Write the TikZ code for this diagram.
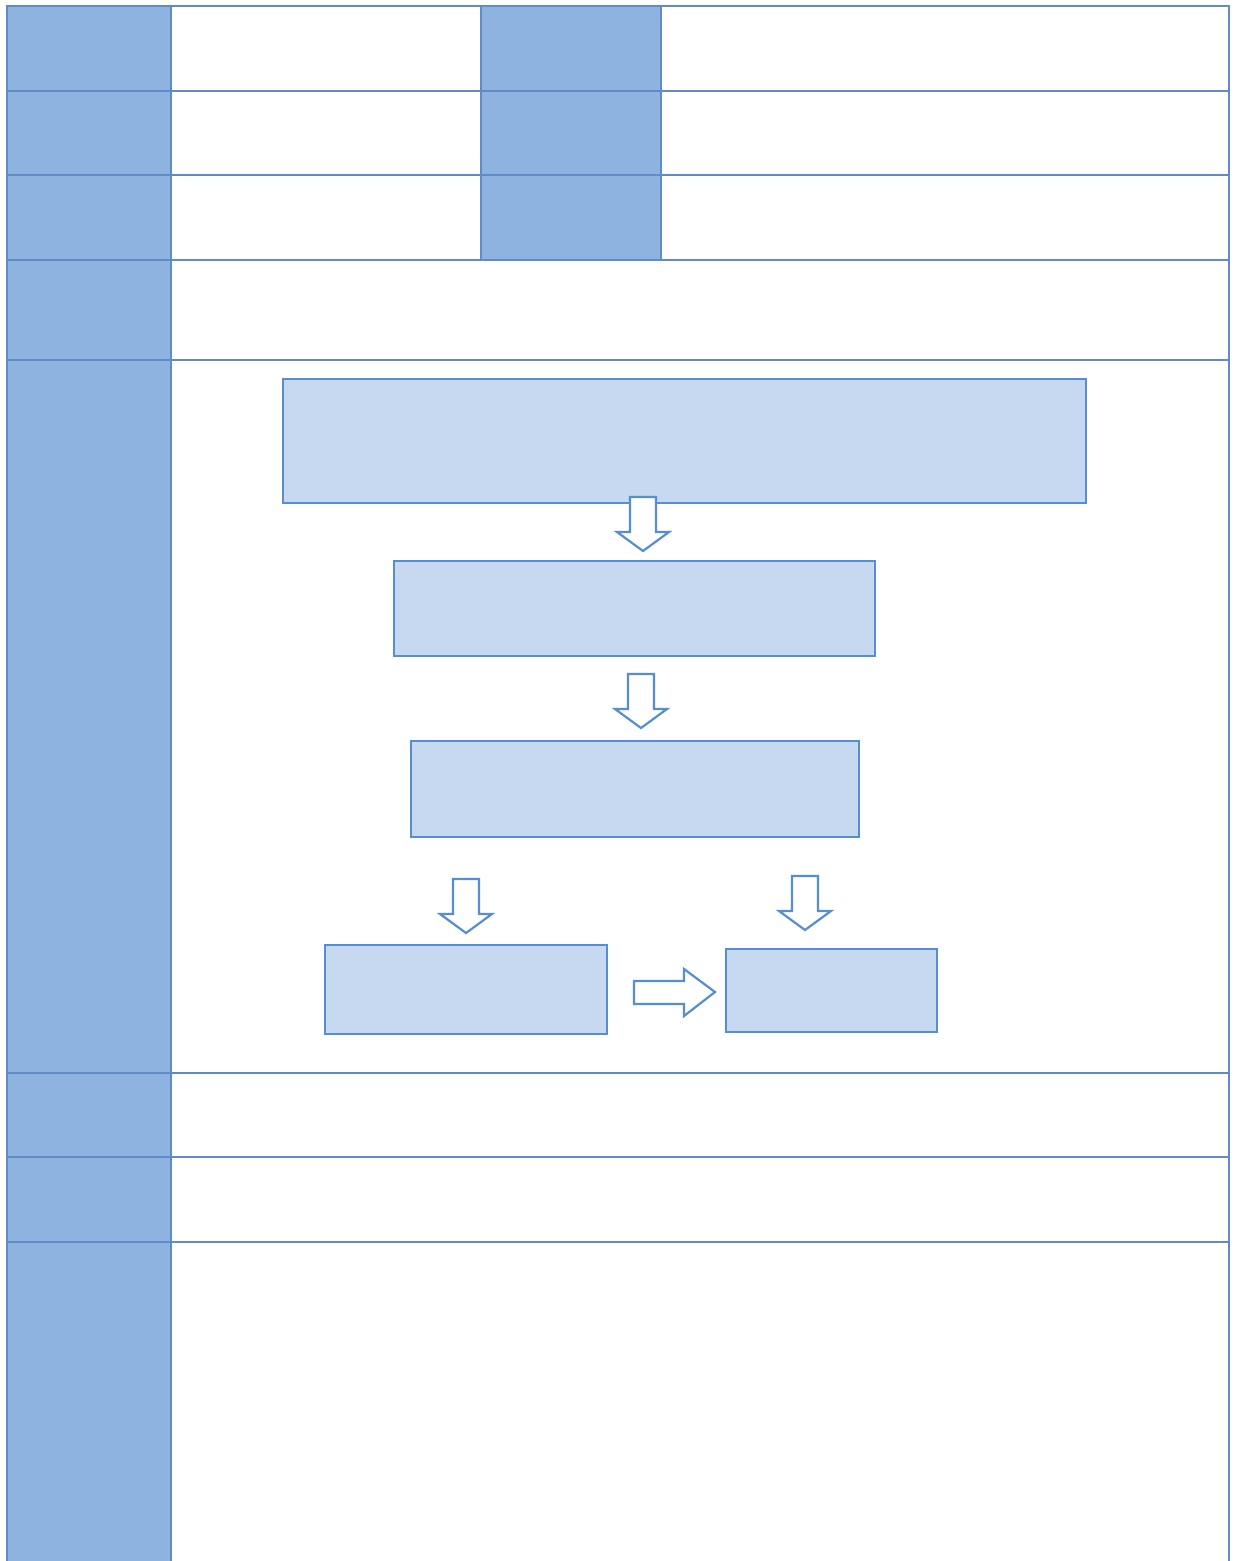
\documentclass[tikz,border=0pt]{standalone}
\usepackage{xcolor}
\definecolor{hdr}{HTML}{8EB3E1}
\definecolor{grid}{HTML}{5F8CC8}
\definecolor{boxfill}{HTML}{C6D9F0}
\definecolor{boxline}{HTML}{558ED5}
\tikzset{
  cellline/.style={draw=grid, line width=0.6pt},
  flowbox/.style={draw=boxline, fill=boxfill, line width=1.3pt},
  blockarrow/.style={draw=boxline, fill=white, line width=1.1pt, line join=miter},
}
% down block arrow: center x, top y
\newcommand\blkdown[2]{%
  \draw[blockarrow] (#1-13,#2) -- (#1+13,#2) -- (#1+13,#2+35) -- (#1+26,#2+35)
    -- (#1,#2+54) -- (#1-26,#2+35) -- (#1-13,#2+35) -- cycle;}
\begin{document}
\begin{tikzpicture}[x=0.5pt,y=-0.5pt]
\useasboundingbox (0,0) rectangle (1235,1561);
\fill[white] (0,0) rectangle (1235,1561);
% header fills
\fill[hdr] (7,6) rectangle (171,1561);
\fill[hdr] (481,6) rectangle (661,260);
% grid
\draw[cellline] (7,1561) -- (7,6) -- (1229,6) -- (1229,1561);
\draw[cellline] (171,6) -- (171,1561);
\draw[cellline] (481,6) -- (481,260);
\draw[cellline] (661,6) -- (661,260);
\foreach \yy in {91,175,260,360,1073,1157,1242}
  \draw[cellline] (7,\yy) -- (1229,\yy);
% flow boxes
\node[flowbox, minimum width=401.5pt, minimum height=62pt, inner sep=0pt] (b1) at (684.5,441) {};
\node[flowbox, minimum width=240.5pt, minimum height=47.5pt, inner sep=0pt] (b2) at (634.5,608.5) {};
\node[flowbox, minimum width=224pt, minimum height=48pt, inner sep=0pt] (b3) at (635,789) {};
\node[flowbox, minimum width=141pt, minimum height=44.5pt, inner sep=0pt] (b4) at (466,989.5) {};
\node[flowbox, minimum width=105.5pt, minimum height=41.5pt, inner sep=0pt] (b5) at (831.5,990.5) {};
% block arrows
\blkdown{643}{497}
\blkdown{641}{674}
\blkdown{466}{879}
\blkdown{805}{876}
\draw[blockarrow] (634,981) -- (684,981) -- (684,969) -- (715,992) -- (684,1016)
  -- (684,1004) -- (634,1004) -- cycle;
\end{tikzpicture}
\end{document}
